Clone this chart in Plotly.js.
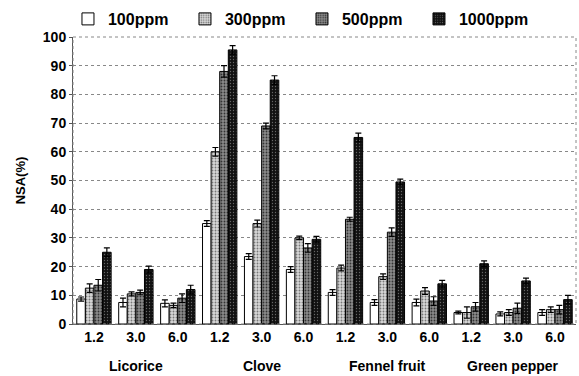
<!DOCTYPE html>
<html><head><meta charset="utf-8">
<script src="https://cdn.plot.ly/plotly-3.0.1.min.js"></script>
<style>html,body{margin:0;padding:0;background:#fff}#c{width:579px;height:376px}</style>
</head><body><div id="c"></div>
<script>
const groups = ["Licorice","Clove","Fennel fruit","Green pepper"];
const doses = ["1.2","3.0","6.0"];
const seriesNames = ["100ppm","300ppm","500ppm","1000ppm"];
const v100  = [8.7, 7.5, 7.2, 35, 23.5, 19, 11, 7.5, 7.5, 4, 3.5, 4];
const v300  = [12.5, 10.5, 6.5, 60, 35, 30, 19.5, 16.5, 11.5, 4, 4, 5];
const v500  = [13.5, 11, 9, 88, 69, 26.5, 36.5, 32, 8, 6, 5.5, 5];
const v1000 = [25, 19, 12, 95.5, 85, 29.5, 65, 49.5, 14, 21, 15, 8.5];
const e100  = [0.7, 1.5, 1.2, 1, 1, 1, 1, 1, 1.2, 0.5, 0.7, 1];
const e300  = [1.5, 0.7, 0.8, 1.5, 1.2, 0.6, 1, 1, 1.2, 2, 1, 1];
const e500  = [2, 0.8, 1.5, 2, 1, 1.5, 0.7, 1.5, 1.5, 1.5, 1.8, 1.5];
const e1000 = [1.5, 1.2, 1.5, 1.5, 1.5, 1, 1.5, 1, 1.2, 1, 1, 1.5];

const cats = [];
groups.forEach((g,gi)=>doses.forEach(d=>cats.push(gi+"_"+d)));
const vals = [v100,v300,v500,v1000];
const errs = [e100,e300,e500,e1000];
const colors = ["#ffffff","#d8d8d8","#8a8a8a","#111111"];
const pats = ["", ".", ".", "."];
const patFg = ["#000","#777","#333","#666"];
const sol = [0.3, 0.3, 0.3, 0.15];
const traces = seriesNames.map((n,i)=>({
  type:"bar", name:n, x:cats, y:vals[i],
  marker:{color:colors[i], line:{color:"#000",width:1},
    pattern:{shape:pats[i], fgcolor:patFg[i], bgcolor:colors[i], size:3, solidity:sol[i]}},
  error_y:{type:"data", array:errs[i], visible:true, color:"#000", thickness:1.2, width:3}
}));
const font = 'Liberation Sans Narrow, Arial Narrow, Liberation Sans, Arial, sans-serif';
const annotations = groups.map((g,gi)=>({
  x:cats[gi*3+1], y:0, xref:"x", yref:"paper", yshift:-42, text:"<b>"+g+"</b>",
  showarrow:false, font:{size:14, color:"#000", family:font}, yanchor:"middle"
}));
Plotly.newPlot("c", traces, {
  width:579, height:376,
  margin:{l:73, r:3, t:36, b:52},
  paper_bgcolor:"#fff", plot_bgcolor:"#fff",
  font:{family:font, color:"#000"},
  barmode:"group", bargap:0.18, bargroupgap:0,
  showlegend:true,
  legend:{orientation:"h", x:-0.01, y:1.0, yanchor:"bottom", xanchor:"left",
    font:{size:16, family:font, color:"#000", weight:"bold"}, itemwidth:30, entrywidth:72,
    traceorder:"normal", tracegroupgap:0},
  xaxis:{type:"category", categoryorder:"array", categoryarray:cats,
    tickvals:cats, ticktext:cats.map(c=>c.split("_")[1]),
    tickfont:{size:14, family:font, weight:"bold"}, ticks:"", showline:true, linecolor:"#555", linewidth:1,
    mirror:false, showgrid:false},
  yaxis:{range:[0,100], dtick:10, tickfont:{size:14, family:font, weight:"bold"},
    showline:true, linecolor:"#555", linewidth:1, mirror:false,
    showgrid:true, gridcolor:"#888", griddash:"dot", gridwidth:1, zeroline:false,
    ticks:"outside", ticklen:3, tickcolor:"#555",
    title:{text:"<b>NSA(%)</b>", font:{size:13, family:font}, standoff:14}},
  shapes:[
    {type:"rect", xref:"paper", yref:"paper", x0:0, x1:1, y0:0, y1:1,
     line:{color:"#888", width:1, dash:"dot"}}
  ],
  annotations:annotations
}, {displayModeBar:false});
</script></body></html>
